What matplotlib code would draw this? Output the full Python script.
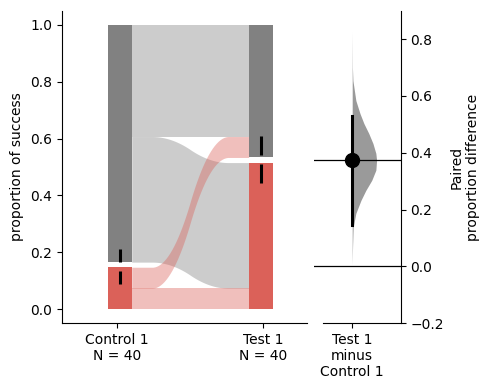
import numpy as np
import matplotlib
matplotlib.use("Agg")
import matplotlib.pyplot as plt

# group labels and counts
groups = ["Control 1", "Test 1"]
n_total = 40
success = [6, 21]            # successes per group
# paired transitions control -> test (fail/success)
ff, fs, sf, ss = 16, 18, 3, 3
err_half = [0.061, 0.083]    # half length of the black error bars

# contrast (paired proportion difference)
diff_mean = 0.375
ci_low, ci_high = 0.147, 0.530
dist_y = [0.83, 0.70, 0.654, 0.584, 0.538, 0.503, 0.468, 0.433, 0.398, 0.374,
          0.339, 0.303, 0.268, 0.233, 0.187, 0.138, 0.068, 0.005]
dist_d = [0.0, 0.01, 0.03, 0.15, 0.32, 0.48, 0.68, 0.85, 0.97, 1.0,
          0.97, 0.80, 0.56, 0.36, 0.15, 0.04, 0.015, 0.0]

red = "#db6159"
grey = "#818181"

fig = plt.figure(figsize=(4.9, 3.9), dpi=100)
ax = fig.add_axes([61.7 / 490, 1 - 323.3 / 390, 245 / 490, 312.6 / 390])
ax2 = fig.add_axes([314.3 / 490, 1 - 323.3 / 390, 86.4 / 490, 312.6 / 390])

gap = 0.018
bar_x = [0.02, 0.983]
bar_w = 0.165

# bar segments
succ_h = [s / n_total * (1 - gap) for s in success]
for x, h in zip(bar_x, succ_h):
    ax.bar(x, h, width=bar_w, bottom=0, color=red, zorder=3)
    ax.bar(x, 1 - h - gap, width=bar_w, bottom=h + gap, color=grey, zorder=3)

# ribbons
def smooth(y0, y1):
    ys = np.array(50 * [y0] + 50 * [y1], dtype=float)
    ys = np.convolve(ys, 0.05 * np.ones(20), mode="valid")
    ys = np.convolve(ys, 0.05 * np.ones(20), mode="valid")
    return ys

def stack(bottom, top, counts):
    unit = (top - bottom) / sum(counts)
    out, cur = [], top
    for c in counts:
        out.append((cur - c * unit, cur))
        cur -= c * unit
    return out

l_fail = stack(succ_h[0] + gap, 1, [ff, fs])
l_succ = stack(0, succ_h[0], [sf, ss])
r_fail = stack(succ_h[1] + gap, 1, [ff, sf])
r_succ = stack(0, succ_h[1], [fs, ss])

x0 = bar_x[0] + bar_w / 2
x1 = bar_x[1] - bar_w / 2
flows = [
    (l_fail[0], r_fail[0], grey),
    (l_fail[1], r_succ[0], grey),
    (l_succ[0], r_fail[1], red),
    (l_succ[1], r_succ[1], red),
]
for (lb, lt), (rb, rt), c in flows:
    yb = smooth(lb, rb)
    yt = smooth(lt, rt)
    xs = np.linspace(x0, x1, len(yb))
    ax.fill_between(xs, yb, yt, color=c, alpha=0.4, lw=0, zorder=2)

# error bars with a gap at the mean
p = [s / n_total for s in success]
g = 0.016
for x, m, e in zip(bar_x, p, err_half):
    ax.plot([x, x], [m + g, m + e], color="black", lw=2.2, zorder=4, solid_capstyle="butt")
    ax.plot([x, x], [m - e, m - g], color="black", lw=2.2, zorder=4, solid_capstyle="butt")

ax.set_xlim(-0.375, 1.296)
ax.set_ylim(-0.05, 1.05)
ax.set_xticks([0, 1])
ax.set_xticklabels([f"{grp}\nN = {n_total}" for grp in groups])
ax.set_ylabel("proportion of success")
ax.spines["top"].set_visible(False)
ax.spines["right"].set_visible(False)

# contrast axes
base = p[0]
ax2.set_ylim(-0.05 - base, 1.05 - base)
ax2.set_xlim(-0.5, 0.64)
vw = 0.322
ax2.fill_betweenx(dist_y, 0, np.array(dist_d) * vw, color=grey, alpha=0.8, lw=0, zorder=1)
ax2.axhline(0, color="black", lw=0.9, zorder=2)
ax2.axhline(diff_mean, color="black", lw=0.9, zorder=2)
ax2.plot([0, 0], [ci_low, ci_high], color="black", lw=2.2, zorder=3)
ax2.plot(0, diff_mean, "o", color="black", ms=10, zorder=4)
ax2.set_xticks([0])
ax2.set_xticklabels([f"{groups[1]}\nminus\n{groups[0]}"])
ax2.set_yticks([-0.2, 0.0, 0.2, 0.4, 0.6, 0.8])
ax2.yaxis.tick_right()
ax2.yaxis.set_label_position("right")
ax2.set_ylabel("Paired\nproportion difference")
ax2.spines["top"].set_visible(False)
ax2.spines["left"].set_visible(False)
ax2.spines["bottom"].set_bounds(-0.38, 0.64)

fig.savefig("out.png", dpi=100)
